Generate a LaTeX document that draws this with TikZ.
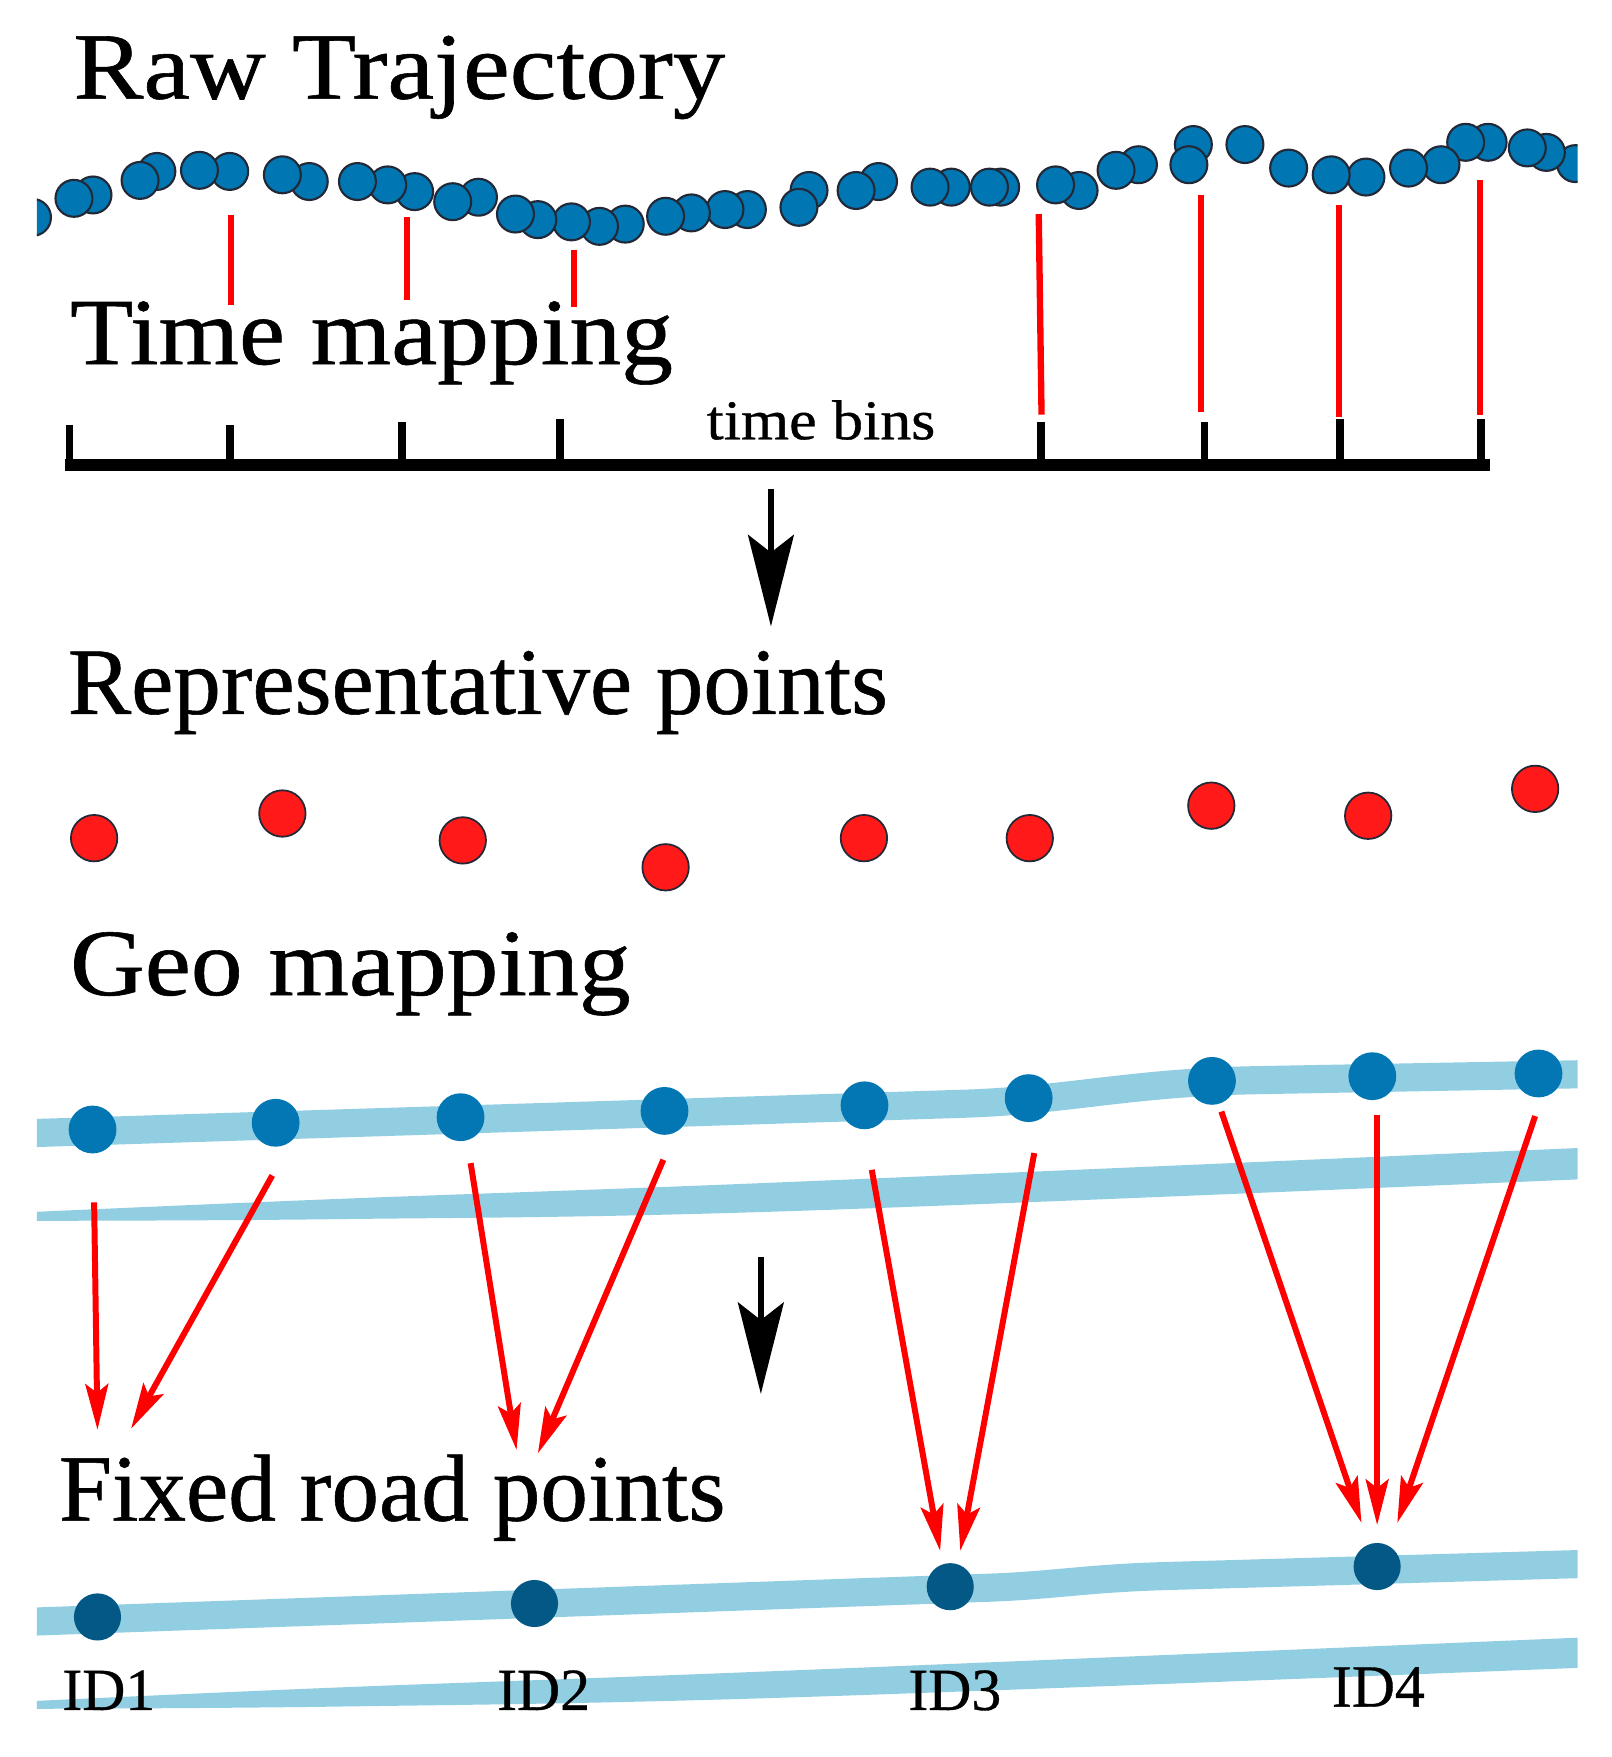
\documentclass[tikz,border=0pt]{standalone}
\usepackage{fontspec}
\setmainfont{Liberation Serif}[FakeBold=0.6]
\usetikzlibrary{arrows.meta}
\definecolor{rawblue}{RGB}{0,118,178}
\definecolor{geoblue}{RGB}{2,119,180}
\definecolor{fixblue}{RGB}{3,88,133}
\definecolor{roadc}{RGB}{146,206,226}
\definecolor{pred}{RGB}{255,25,25}
\definecolor{lred}{RGB}{255,0,0}
\definecolor{dotedge}{RGB}{35,40,55}
\begin{document}
\begin{tikzpicture}[x=0.011203cm, y=-0.011203cm,
  titletext/.style={anchor=base west, inner sep=0pt, font=\fontsize{27}{30}\selectfont},
  smalltext/.style={anchor=base west, inner sep=0pt, font=\fontsize{16}{18}\selectfont},
  idtext/.style={anchor=base west, inner sep=0pt, font=\fontsize{17}{19}\selectfont},
  rawdot/.style={fill=rawblue, draw=dotedge, line width=0.6pt},
  repdot/.style={circle, fill=pred, draw=dotedge, line width=0.5pt, minimum size=13.2pt, inner sep=0pt},
  geodot/.style={circle, fill=geoblue, minimum size=13.6pt, inner sep=0pt},
  fixdot/.style={circle, fill=fixblue, minimum size=13.4pt, inner sep=0pt},
  roadline/.style={draw=roadc, line width=8pt},
  binline/.style={draw=lred, line width=1.8pt},
  bintick/.style={draw=black, line width=2.2pt},
  maparrow/.style={draw=lred, line width=1.7pt, -{Stealth[length=13pt,width=6.5pt,inset=2.5pt]}},
  steparrow/.style={draw=black, line width=1.8pt, -{Stealth[length=26pt,width=13pt,inset=5pt]}},
]
\useasboundingbox (0,0) rectangle (1438,1568);
\fill[white] (0,0) rectangle (1438,1568);

% ---------- titles ----------
\node[titletext] (t1) at (65,88) {\scalebox{1.105}[1]{Raw Trajectory}};
\node[titletext] (t2) at (62,325) {\scalebox{1.09}[1]{Time mapping}};
\node[titletext] (t3) at (60,637) {\scalebox{1.0}[1]{Representative points}};
\node[titletext] (t4) at (62,888) {\scalebox{1.09}[1]{Geo mapping}};
\node[titletext] (t5) at (52,1357) {\scalebox{1.003}[1]{Fixed road points}};

% ---------- raw trajectory ----------
\begin{scope}
\clip (33,0) rectangle (1408,300);
\foreach \x/\y in {1406/146,1380/136,1363/132,1328/127,1308/127,1286/147,1257/150,1219/158,1188/156,1150/150,1111/129,1065/129,1061/147,1016/147,996/152,963/170,942/165,893/167,883/167,849/167,830/167,784/162,764/170,722/170,713/185,667/187,647/187,617/190,594/193,558/200,535/202,510/198,480/196,460/191,427/176,404/180,370/171,346/165,319/162,276/162,252/156,205/153,178/152,140/153,125/161,83/174,66/177,29/194}
  \filldraw[rawdot] (\x,\y) circle[radius=5.25pt];
\end{scope}

% ---------- time bins axis ----------
\draw[black, line width=3.2pt] (58,415) -- (1330,415);
\foreach \x/\y [count=\i] in {62/379,205/379,359/377,500/374,929/377,1075/377,1196/374,1322/374}{
  \coordinate (k\i) at (\x,\y);
  \draw[bintick] (\x,415) -- (k\i);
}
\node[smalltext] (tb) at (630,392) {\scalebox{1.1}[1]{time bins}};

% red time-mapping lines
\draw[binline] (206,192) -- (206,272);
\draw[binline] (363,194) -- (363,268);
\draw[binline] (512,223) -- (512,274);
\draw[binline] (927,191) -- (929.5,370);
\draw[binline] (1072,174) -- (1072,368);
\draw[binline] (1195,183) -- (1195,372);
\draw[binline] (1321,161) -- (1321,370);

% step arrow 1
\coordinate (s1a) at (688,436);
\coordinate (s1b) at (688,559);
\draw[steparrow] (s1a) -- (s1b);

% ---------- representative points ----------
\foreach \x/\y [count=\i] in {84/748,252/726,413/750,594/774,771/748,919/748,1081/719,1221/728,1370/704}
  \node[repdot] (r\i) at (\x,\y) {};

% ---------- geo mapping roads ----------
\begin{scope}
\clip (33,900) rectangle (1408,1120);
\draw[roadline] (20,1011.5) -- (860,985) .. controls (950,982.2) and (1010,966) .. (1120,964) -- (1420,958.5);
\fill[roadc] plot[smooth, tension=0.6] coordinates {(20,1082) (300,1070) (700,1055) (1420,1024)}
  -- plot[smooth, tension=0.6] coordinates {(1420,1052) (700,1081) (300,1088) (20,1089.5)} -- cycle;
\end{scope}

\foreach \x/\y [count=\i] in {82.6/1008,246/1002,411/997,593/991.4,771.5/986.4,918/980,1081.6/964.6,1224.7/960.4,1373/958}
  \node[geodot] (g\i) at (\x,\y) {};

% step arrow 2
\coordinate (s2a) at (679,1122);
\coordinate (s2b) at (679,1244);
\draw[steparrow] (s2a) -- (s2b);

% ---------- fixed road ----------
\begin{scope}
\clip (33,1360) rectangle (1408,1560);
\draw[roadline] (20,1447.5) -- (880,1417) .. controls (940,1414.9) and (970,1408.5) .. (1040,1406.5) -- (1420,1395.5);
\fill[roadc] plot[smooth, tension=0.6] coordinates {(20,1518.5) (300,1506) (700,1491) (1420,1461)}
  -- plot[smooth, tension=0.6] coordinates {(1420,1488) (700,1515) (300,1523) (20,1525)} -- cycle;
\end{scope}

\node[fixdot] (f1) at (87,1443) {};
\node[fixdot] (f2) at (477,1431) {};
\node[fixdot] (f3) at (848,1416) {};
\node[fixdot] (f4) at (1229,1398) {};

\node[idtext] (id1) at (55,1526) {ID1};
\node[idtext] (id2) at (443,1526) {ID2};
\node[idtext] (id3) at (810,1526) {ID3};
\node[idtext] (id4) at (1188,1523) {ID4};

% ---------- mapping arrows ----------
\coordinate (a1) at (84,1073);   \coordinate (b1) at (87,1276);
\coordinate (a2) at (243,1049);  \coordinate (b2) at (117,1275);
\coordinate (a3) at (420,1038);  \coordinate (b3) at (461,1294);
\coordinate (a4) at (592,1035);  \coordinate (b4) at (480,1297);
\coordinate (a5) at (778,1044);  \coordinate (b5) at (839,1384);
\coordinate (a6) at (923,1029);  \coordinate (b6) at (857,1384);
\coordinate (a7) at (1090,992);  \coordinate (b7) at (1215,1359);
\coordinate (a8) at (1229,995);  \coordinate (b8) at (1229,1361);
\coordinate (a9) at (1370,996);  \coordinate (b9) at (1247,1359);
\foreach \i in {1,...,9} \draw[maparrow] (a\i) -- (b\i);
\end{tikzpicture}
\end{document}
